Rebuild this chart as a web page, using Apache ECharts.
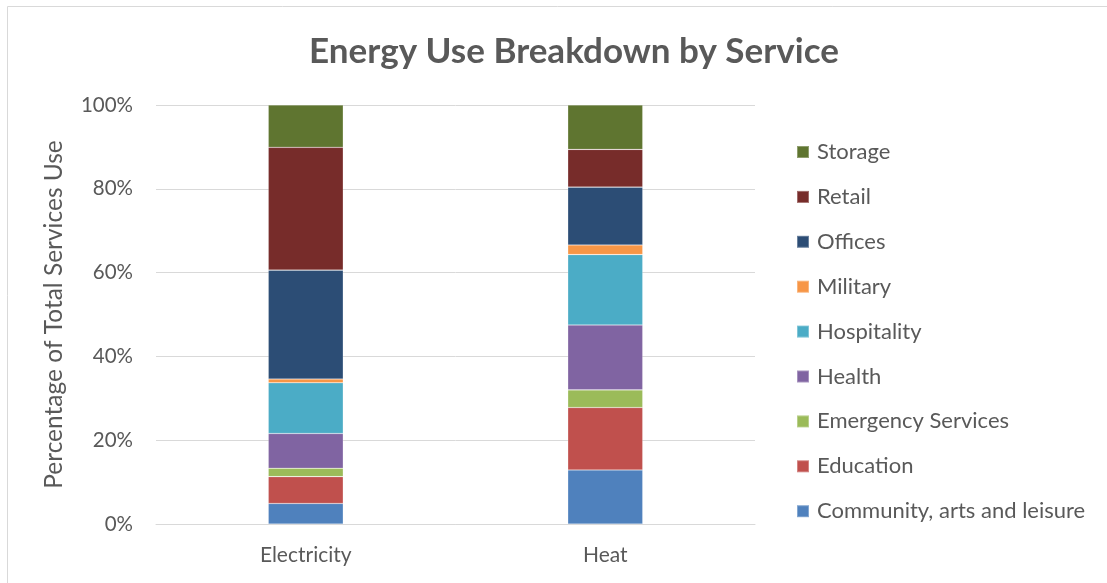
<!DOCTYPE html>
<html>
<head>
<meta charset="utf-8">
<script src="https://cdn.jsdelivr.net/npm/echarts@6/dist/echarts.min.js"></script>
<style>
  html, body { margin: 0; padding: 0; background: #fff; }
  #chart { width: 1107px; height: 583px; }
</style>
</head>
<body>
<div id="chart"></div>
<script>
// Share of total services energy use, stacked to 100% per energy type
const categories = ['Electricity', 'Heat'];
const services = ['Community, arts and leisure', 'Education', 'Emergency Services', 'Health',
                  'Hospitality', 'Military', 'Offices', 'Retail', 'Storage'];
const community   = [4.9, 12.9];
const education   = [6.4, 14.9];
const emergency   = [2.0, 4.2];
const health      = [8.3, 15.5];
const hospitality = [12.1, 16.8];
const military    = [0.9, 2.3];
const offices     = [26.0, 13.8];
const retail      = [29.3, 9.0];
const storage     = [10.1, 10.6];
const yTicks = [0, 20, 40, 60, 80, 100];

const seriesValues = [community, education, emergency, health, hospitality, military, offices, retail, storage];
const colors = ['#4F81BD', '#C0504D', '#9BBB59', '#8064A2', '#4BACC6', '#F79646', '#2C4D75', '#772C2A', '#5F7530'];

const font = 'Lato, "Open Sans", sans-serif';
const textColor = '#595959';

const chart = echarts.init(document.getElementById('chart'));
chart.setOption({
  animation: false,
  color: colors,
  title: {
    text: 'Energy Use Breakdown by Service',
    left: 569, top: 29, textAlign: 'center',
    textStyle: { fontFamily: font, fontWeight: 'bold', fontSize: 35, color: textColor }
  },
  graphic: [{
    type: 'rect',
    shape: { x: 7.5, y: 6.5, width: 1110, height: 600 },
    style: { fill: 'none', stroke: '#D9D9D9', lineWidth: 1 },
    silent: true
  }],
  legend: {
    orient: 'vertical',
    left: 791, top: 136,
    data: services.slice().reverse(),
    itemWidth: 12, itemHeight: 12, itemGap: 22.9,
    icon: 'rect',
    textStyle: { fontFamily: font, fontSize: 22, color: textColor, lineHeight: 22, padding: [0, 0, 0, 3] }
  },
  grid: { left: 156, right: 352, top: 105, bottom: 59 },
  xAxis: {
    type: 'category',
    data: categories,
    axisLine: { lineStyle: { color: '#D9D9D9', width: 1 } },
    axisTick: { show: false },
    axisLabel: { fontFamily: font, fontSize: 21, color: textColor, margin: 21 }
  },
  yAxis: {
    type: 'value',
    min: yTicks[0], max: yTicks[yTicks.length - 1], interval: 20,
    name: 'Percentage of Total Services Use',
    nameLocation: 'middle', nameGap: 89,
    nameTextStyle: { fontFamily: font, fontSize: 24.5, color: textColor },
    axisLine: { show: false },
    axisTick: { show: false },
    axisLabel: { fontFamily: font, fontSize: 20.5, color: textColor, margin: 23, formatter: v => v + '%' },
    splitLine: { lineStyle: { color: '#D9D9D9', width: 1 } }
  },
  series: services.map((name, i) => ({
    name: name,
    type: 'bar',
    stack: 'total',
    barWidth: 75,
    data: seriesValues[i],
    itemStyle: { borderColor: 'rgba(255,255,255,0.3)', borderWidth: 0.6 }
  }))
});
</script>
</body>
</html>
